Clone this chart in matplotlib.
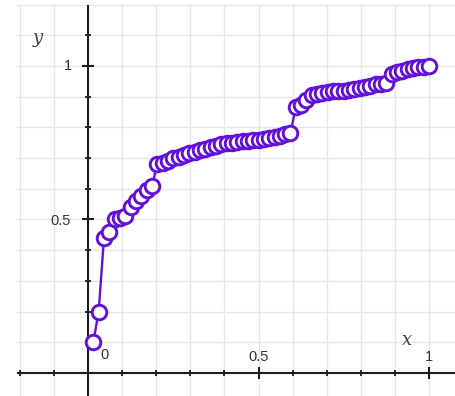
import matplotlib
matplotlib.use("Agg")
import matplotlib.pyplot as plt
import numpy as np

#--------------------------------------
# data (x = i/n, y = sorted values)
n_pts = 64
y_vals = [0.10, 0.20, 0.44, 0.46, 0.50, 0.505, 0.51, 0.54,
          0.56, 0.575, 0.595, 0.61, 0.68, 0.685, 0.69, 0.70,
          0.705, 0.71, 0.715, 0.72, 0.725, 0.73, 0.735, 0.74,
          0.745, 0.748, 0.75, 0.752, 0.755, 0.757, 0.759, 0.76,
          0.763, 0.766, 0.77, 0.773, 0.777, 0.782, 0.867, 0.872,
          0.89, 0.905, 0.91, 0.913, 0.915, 0.917, 0.918, 0.92,
          0.922, 0.925, 0.927, 0.93, 0.935, 0.94, 0.942, 0.944,
          0.975, 0.98, 0.985, 0.99, 0.993, 0.996, 0.998, 1.0]
x_vals = [i / n_pts for i in range(1, n_pts + 1)]

x_ticks = [-0.2, -0.1, 0.1, 0.2, 0.3, 0.4, 0.6, 0.7, 0.8, 0.9, 1.0]
x_major = [0.5, 1.0]
y_ticks = [0.1, 0.2, 0.3, 0.4, 0.6, 0.7, 0.8, 0.9, 1.1]
y_major = [0.5, 1.0]

purple = "#6210dc"
lbl = dict(ha="center", va="center", fontsize=10.5, color="#333333",
           family="Liberation Sans")

#--------------------------------------
fig = plt.figure(figsize=(4.56, 3.96), dpi=100)
ax = fig.add_axes([0, 0, 1, 1])
ax.set_xlim(-0.258, 1.079)
ax.set_ylim(-0.075, 1.215)
ax.axis("off")

# grid
gx = np.round(np.arange(-0.2, 1.09, 0.1), 2)
gy = np.round(np.arange(0.0, 1.21, 0.1), 2)
ax.vlines(gx, -0.075, 1.2, color="#e6e6e6", lw=1, zorder=0)
ax.hlines(gy, -0.21, 1.079, color="#e6e6e6", lw=1, zorder=0)

# axes lines
ax.plot([-0.205, 1.079], [0, 0], color="#1e1e1e", lw=1.5, zorder=1)
ax.plot([0, 0], [-0.075, 1.195], color="#1e1e1e", lw=1.5, zorder=1)

# ticks
ax.plot(x_ticks, [0] * len(x_ticks), ls="none", marker="|", ms=4, mew=1.3, color="#1e1e1e")
ax.plot(x_major, [0] * len(x_major), ls="none", marker="|", ms=8, mew=1.5, color="#1e1e1e")
ax.plot([0] * len(y_ticks), y_ticks, ls="none", marker="_", ms=4, mew=1.3, color="#1e1e1e")
ax.plot([0] * len(y_major), y_major, ls="none", marker="_", ms=8, mew=1.5, color="#1e1e1e")

# labels
ax.text(0.047, 0.058, "0", **lbl)
ax.text(0.5, 0.052, "0.5", **lbl)
ax.text(1.0, 0.052, "1", **lbl)
ax.text(-0.059, 1.0, "1", **lbl)
ax.text(-0.079, 0.495, "0.5", **lbl)
ax.text(0.935, 0.107, "x", ha="center", va="center", fontsize=13,
        family="DejaVu Serif", style="italic", color="#444444")
ax.text(-0.147, 1.09, "y", ha="center", va="center", fontsize=13,
        family="DejaVu Serif", style="italic", color="#444444")

# the data
ax.plot(x_vals, y_vals, color=purple, lw=1.7, marker="o", ms=10.5,
        mfc="white", mec=purple, mew=2.1, zorder=3)

fig.savefig("out.png", dpi=100)
